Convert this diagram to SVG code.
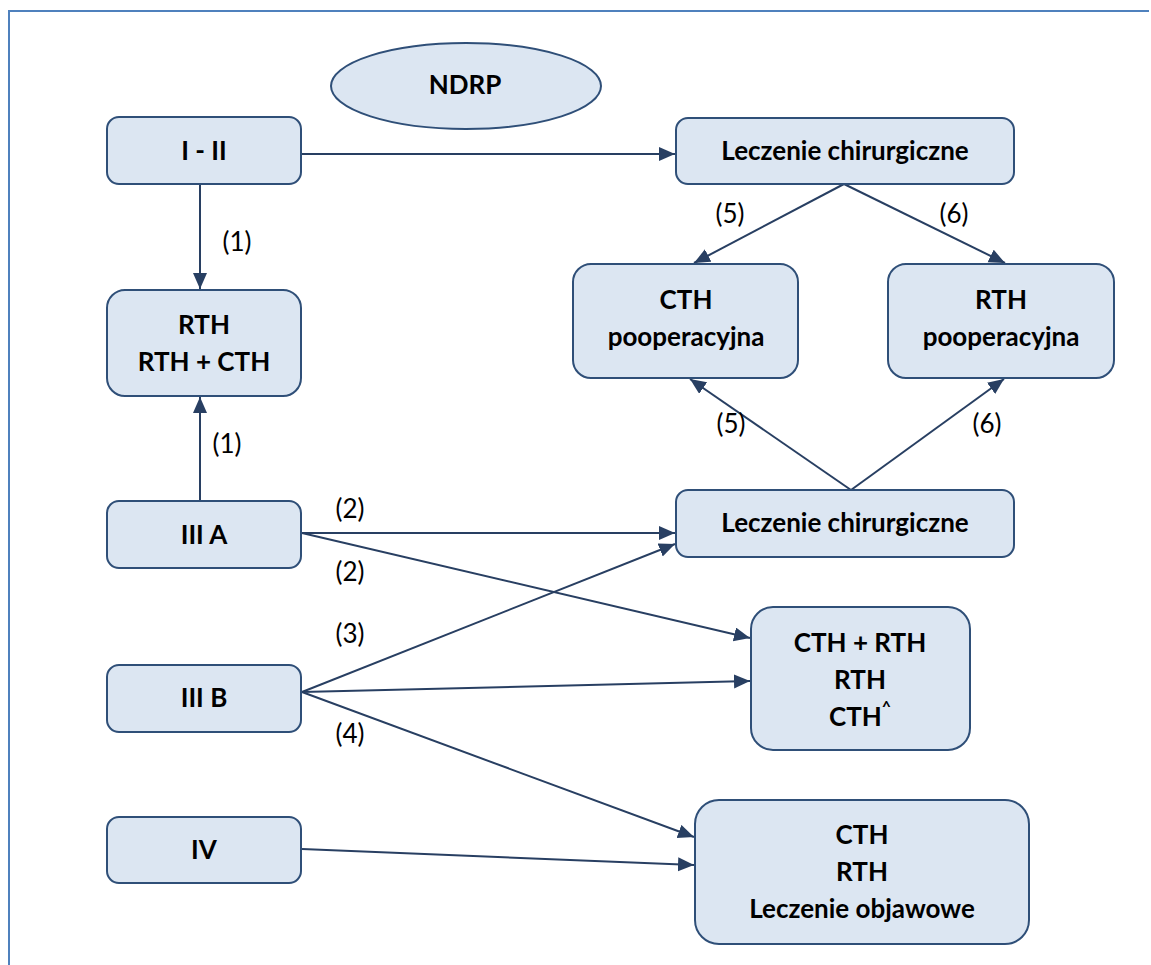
<svg xmlns="http://www.w3.org/2000/svg" width="1151" height="965" viewBox="0 0 1151 965">
<defs>
<style>
.box{fill:#dce6f2;stroke:#2f4f78;stroke-width:2}
.t{font-family:Lato,"Open Sans","Liberation Sans",sans-serif;font-weight:bold;font-size:26px;fill:#000;text-anchor:middle}
.lbl{font-family:Lato,"Open Sans","Liberation Sans",sans-serif;font-size:26px;fill:#000;text-anchor:middle}
.c{fill:none;stroke:#283f62;stroke-width:2;marker-end:url(#ah)}
</style>
<marker id="ah" markerUnits="userSpaceOnUse" markerWidth="18" markerHeight="16" refX="16" refY="7" orient="auto">
<path d="M0,0 L16,7 L0,14 z" fill="#283f62"/>
</marker>
</defs>
<rect width="1151" height="965" fill="#fff"/>
<path d="M9,965 V11 H1149" fill="none" stroke="#4f81bd" stroke-width="2"/>

<g id="connectors">
<path class="c" d="M301,154 H675"/>
<path class="c" d="M200,184 V289"/>
<path class="c" d="M200,501 V397"/>
<path class="c" d="M844,184 L694,263"/>
<path class="c" d="M844,184 L1005,263"/>
<path class="c" d="M851,490 L690,379"/>
<path class="c" d="M851,490 L1004,379"/>
<path class="c" d="M302,533 H675"/>
<path class="c" d="M302,533 L750,638"/>
<path class="c" d="M302,692 L675,544"/>
<path class="c" d="M302,692 L750,681"/>
<path class="c" d="M302,692 L694,837"/>
<path class="c" d="M302,849 L694,865"/>
</g>

<g id="labels">
<text class="lbl" x="237" y="251">(1)</text>
<text class="lbl" x="227" y="453">(1)</text>
<text class="lbl" x="350" y="518">(2)</text>
<text class="lbl" x="350" y="581">(2)</text>
<text class="lbl" x="350" y="643">(3)</text>
<text class="lbl" x="350" y="743">(4)</text>
<text class="lbl" x="730" y="223">(5)</text>
<text class="lbl" x="954" y="223">(6)</text>
<text class="lbl" x="731" y="433">(5)</text>
<text class="lbl" x="987" y="433">(6)</text>
</g>

<g id="ndrp">
<ellipse class="box" cx="466" cy="86" rx="135" ry="43"/>
<text class="t" x="465" y="94">NDRP</text>
</g>
<g id="i_ii">
<rect class="box" x="107" y="117" width="194" height="67" rx="12"/>
<text class="t" x="204" y="160">I - II</text>
</g>
<g id="leczenie_top">
<rect class="box" x="676" y="118" width="338" height="66" rx="12"/>
<text class="t" x="845" y="160">Leczenie chirurgiczne</text>
</g>
<g id="cth_pooper">
<rect class="box" x="573" y="264" width="225" height="114" rx="18"/>
<text class="t" x="686" y="309">CTH</text>
<text class="t" x="686" y="346">pooperacyjna</text>
</g>
<g id="rth_pooper">
<rect class="box" x="888" y="264" width="226" height="114" rx="18"/>
<text class="t" x="1001" y="309">RTH</text>
<text class="t" x="1001" y="346">pooperacyjna</text>
</g>
<g id="rth_rthcth">
<rect class="box" x="107" y="290" width="194" height="106" rx="18"/>
<text class="t" x="204" y="334">RTH</text>
<text class="t" x="204" y="371">RTH + CTH</text>
</g>
<g id="iiia">
<rect class="box" x="107" y="501" width="194" height="67" rx="12"/>
<text class="t" x="204" y="544">III A</text>
</g>
<g id="leczenie_mid">
<rect class="box" x="676" y="490" width="338" height="67" rx="12"/>
<text class="t" x="845" y="532">Leczenie chirurgiczne</text>
</g>
<g id="cthrth">
<rect class="box" x="751" y="607" width="219" height="143" rx="22"/>
<text class="t" x="860" y="652">CTH + RTH</text>
<text class="t" x="860" y="689">RTH</text>
<text class="t" x="860" y="726">CTH<tspan font-size="16" dy="-14">^</tspan></text>
</g>
<g id="iiib">
<rect class="box" x="107" y="665" width="194" height="67" rx="12"/>
<text class="t" x="204" y="707">III B</text>
</g>
<g id="iv">
<rect class="box" x="107" y="817" width="194" height="66" rx="12"/>
<text class="t" x="204" y="859">IV</text>
</g>
<g id="cth_rth_obj">
<rect class="box" x="695" y="800" width="334" height="144" rx="24"/>
<text class="t" x="862" y="844">CTH</text>
<text class="t" x="862" y="881">RTH</text>
<text class="t" x="862" y="918">Leczenie objawowe</text>
</g>
</svg>
